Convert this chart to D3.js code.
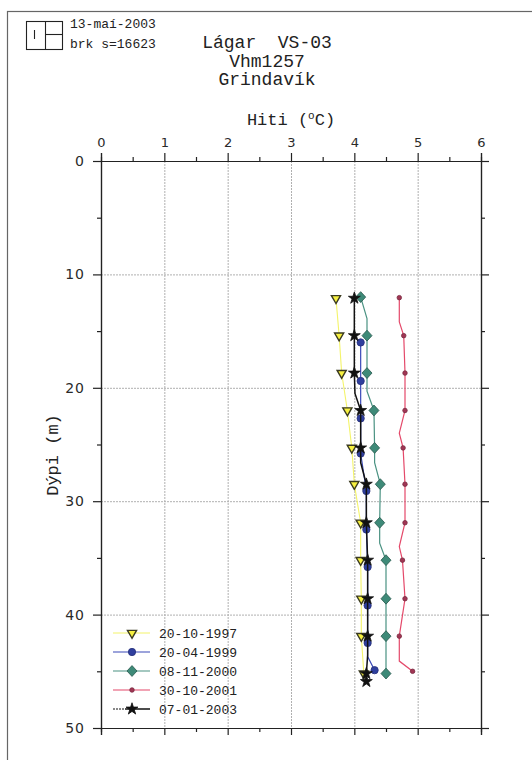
<!DOCTYPE html>
<html>
<head>
<meta charset="utf-8">
<script src="https://cdn.jsdelivr.net/npm/d3@7"></script>
<style>
  html, body { margin: 0; padding: 0; background: #fff; }
  svg text { white-space: pre; }
</style>
</head>
<body>
<svg id="chart" width="532" height="760"></svg>
<script>
// Temperature logs, well VS-03 (Vhm1257), Grindavík
const xTicks = [0, 1, 2, 3, 4, 5, 6];
const xMinor = [0.5, 1.5, 2.5, 3.5, 4.5, 5.5];
const yTicks = [0, 10, 20, 30, 40, 50];
const yMinor = [5, 15, 25, 35, 45];

const seriesNames = ["20-10-1997", "20-04-1999", "08-11-2000", "30-10-2001", "07-01-2003"];

// 20-10-1997
const d1997Depth = [12.1, 15.4, 18.7, 22.0, 25.3, 28.5, 31.9, 35.2, 38.6, 41.9, 45.2];
const d1997Temp  = [3.71, 3.76, 3.80, 3.89, 3.96, 4.00, 4.10, 4.10, 4.11, 4.11, 4.15];
const d1997Mark  = [1, 1, 1, 1, 1, 1, 1, 1, 1, 1, 1];

// 20-04-1999
const d1999Depth = [16.0, 19.4, 22.7, 25.8, 29.1, 32.5, 35.8, 39.2, 42.5, 43.7, 44.9];
const d1999Temp  = [4.10, 4.10, 4.10, 4.10, 4.19, 4.19, 4.21, 4.21, 4.21, 4.21, 4.32];
const d1999Mark  = [1, 1, 1, 1, 1, 1, 1, 1, 1, 0, 1];

// 08-11-2000
const d2000Depth = [12.0, 13.9, 15.4, 18.7, 20.3, 22.0, 25.3, 26.6, 28.5, 31.9, 33.7, 35.2, 38.6, 41.9, 45.2];
const d2000Temp  = [4.10, 4.20, 4.20, 4.20, 4.20, 4.31, 4.32, 4.32, 4.41, 4.40, 4.40, 4.50, 4.50, 4.50, 4.50];
const d2000Mark  = [1, 0, 1, 1, 0, 1, 1, 0, 1, 1, 0, 1, 1, 1, 1];

// 30-10-2001
const d2001Depth = [12.05, 14.2, 15.4, 18.7, 22.0, 24.0, 25.3, 28.5, 31.9, 34.0, 35.2, 38.6, 41.9, 44.1, 45.0];
const d2001Temp  = [4.71, 4.71, 4.78, 4.80, 4.80, 4.71, 4.77, 4.80, 4.80, 4.71, 4.76, 4.80, 4.71, 4.71, 4.92];
const d2001Mark  = [1, 0, 1, 1, 1, 0, 1, 1, 1, 0, 1, 1, 1, 0, 1];

// 07-01-2003
const d2003Depth = [12.1, 15.4, 18.7, 20.5, 22.0, 25.3, 26.6, 28.5, 31.9, 35.2, 38.6, 41.9, 43.6, 45.2, 45.9];
const d2003Temp  = [4.00, 4.00, 4.00, 4.01, 4.10, 4.10, 4.10, 4.19, 4.19, 4.21, 4.21, 4.21, 4.21, 4.19, 4.19];
const d2003Mark  = [1, 1, 1, 0, 1, 1, 0, 1, 1, 1, 1, 1, 0, 1, 1];

const styles = [
  { line: "#f4f46a", lw: 1.1, fill: "#f6f040", stroke: "#3a3a20", shape: "tri",     size: 36 },
  { line: "#3a49b8", lw: 1.2, fill: "#2f3f9e", stroke: "#26307a", shape: "circle",  size: 42 },
  { line: "#4a9282", lw: 1.2, fill: "#3e8a78", stroke: "#25564b", shape: "diamond", size: 34 },
  { line: "#e4496a", lw: 1.2, fill: "#a03654", stroke: "#7a2a40", shape: "dot",     size: 16 },
  { line: "#111111", lw: 1.5, fill: "#111111", stroke: "#111111", shape: "star",    size: 44 }
];

const raw = [
  [d1997Depth, d1997Temp, d1997Mark],
  [d1999Depth, d1999Temp, d1999Mark],
  [d2000Depth, d2000Temp, d2000Mark],
  [d2001Depth, d2001Temp, d2001Mark],
  [d2003Depth, d2003Temp, d2003Mark]
];
const series = raw.map((r, i) => ({
  name: seriesNames[i],
  style: styles[i],
  points: r[0].map((d, j) => ({ depth: d, temp: r[1][j], mark: r[2][j] }))
}));

const svg = d3.select("#chart");
const x = d3.scaleLinear().domain([0, 6]).range([101, 481]);
const y = d3.scaleLinear().domain([0, 50]).range([161, 728]);

// outer frame (runs past the right and bottom edges)
svg.append("rect").attr("x", 7.5).attr("y", 11.5).attr("width", 560).attr("height", 800)
  .attr("fill", "none").attr("stroke", "#666").attr("stroke-width", 1.2);

// logo
const logo = svg.append("g").attr("fill", "none").attr("stroke", "#222").attr("stroke-width", 1.1);
logo.append("rect").attr("x", 26.5).attr("y", 21.5).attr("width", 36).attr("height", 28);
logo.append("line").attr("x1", 45.5).attr("y1", 21.5).attr("x2", 45.5).attr("y2", 49.5);
logo.append("line").attr("x1", 45.5).attr("y1", 34.5).attr("x2", 62.5).attr("y2", 34.5);
logo.append("line").attr("x1", 34.5).attr("y1", 30).attr("x2", 34.5).attr("y2", 39);

const mono = "'Liberation Mono', 'Courier New', monospace";
const sans = "'DejaVu Sans', Verdana, sans-serif";

svg.append("text").attr("x", 70).attr("y", 28).attr("font-family", mono).attr("font-size", 13)
  .attr("fill", "#222").text("13-maí-2003");
svg.append("text").attr("x", 70).attr("y", 48).attr("font-family", mono).attr("font-size", 13)
  .attr("fill", "#222").text("brk s=16623");

const titles = ["Lágar  VS-03", "Vhm1257", "Grindavík"];
titles.forEach((t, i) => {
  svg.append("text").attr("x", 267).attr("y", 48 + i * 18.5).attr("text-anchor", "middle")
    .attr("font-family", mono).attr("font-size", 18).attr("fill", "#222").text(t);
});

// axis title (top)
const xt = svg.append("text").attr("x", 291).attr("y", 125).attr("text-anchor", "middle")
  .attr("font-family", mono).attr("font-size", 17).attr("fill", "#222");
xt.append("tspan").text("Hiti (");
xt.append("tspan").attr("font-size", 11).attr("dy", -6).text("o");
xt.append("tspan").attr("dy", 6).text("C)");

svg.append("text").attr("transform", "translate(58,455) rotate(-90)").attr("text-anchor", "middle")
  .attr("font-family", mono).attr("font-size", 17).attr("fill", "#222").text("Dýpi (m)");

// grid
const grid = svg.append("g").attr("stroke", "#b0b0b0").attr("stroke-width", 1).attr("stroke-dasharray", "2,1");
grid.selectAll("line.v").data(xTicks.filter(v => v > 0 && v < 6)).enter().append("line")
  .attr("x1", d => x(d) + 0.5).attr("x2", d => x(d) + 0.5).attr("y1", y(0)).attr("y2", y(50));
grid.selectAll("line.h").data(yTicks.filter(v => v > 0 && v < 50)).enter().append("line")
  .attr("y1", d => y(d) + 0.5).attr("y2", d => y(d) + 0.5).attr("x1", x(0)).attr("x2", x(6));

// axes
function styleAxis(g) {
  g.select(".domain").attr("stroke", "#222").attr("stroke-width", 1.2);
  g.selectAll(".tick line").attr("stroke", "#222").attr("stroke-width", 1.2);
  g.selectAll(".tick text").attr("fill", "#2a2a2a");
}
const topAxis = svg.append("g").attr("transform", `translate(0,${y(0)})`)
  .call(d3.axisTop(x).tickValues(xTicks).tickFormat(d3.format("d")).tickSizeOuter(0).tickSize(8).tickPadding(6))
  .attr("font-family", sans).attr("font-size", 13);
styleAxis(topAxis);
const topMinor = svg.append("g").attr("transform", `translate(0,${y(0)})`)
  .call(d3.axisTop(x).tickValues(xMinor).tickFormat("").tickSizeOuter(0).tickSize(4));
styleAxis(topMinor);

const bottomAxis = svg.append("g").attr("transform", `translate(0,${y(50)})`)
  .call(d3.axisBottom(x).tickValues(xTicks).tickFormat("").tickSizeOuter(0).tickSize(7));
styleAxis(bottomAxis);
const bottomMinor = svg.append("g").attr("transform", `translate(0,${y(50)})`)
  .call(d3.axisBottom(x).tickValues(xMinor).tickFormat("").tickSizeOuter(0).tickSize(4));
styleAxis(bottomMinor);

const leftAxis = svg.append("g").attr("transform", `translate(${x(0)},0)`)
  .call(d3.axisLeft(y).tickValues(yTicks).tickFormat(d3.format("d")).tickSizeOuter(0).tickSize(8).tickPadding(8))
  .attr("font-family", sans).attr("font-size", 14);
styleAxis(leftAxis);
leftAxis.selectAll(".tick text").attr("letter-spacing", 1);
const leftMinor = svg.append("g").attr("transform", `translate(${x(0)},0)`)
  .call(d3.axisLeft(y).tickValues(yMinor).tickFormat("").tickSizeOuter(0).tickSize(4));
styleAxis(leftMinor);

const rightAxis = svg.append("g").attr("transform", `translate(${x(6)},0)`)
  .call(d3.axisRight(y).tickValues(yTicks).tickFormat("").tickSizeOuter(0).tickSize(8));
styleAxis(rightAxis);
const rightMinor = svg.append("g").attr("transform", `translate(${x(6)},0)`)
  .call(d3.axisRight(y).tickValues(yMinor).tickFormat("").tickSizeOuter(0).tickSize(4));
styleAxis(rightMinor);

// marker shapes
function symbolPath(st) {
  const t = { tri: d3.symbolTriangle, circle: d3.symbolCircle, diamond: d3.symbolDiamond,
              dot: d3.symbolCircle, star: d3.symbolStar }[st.shape];
  return d3.symbol().type(t).size(st.size)();
}
function drawMarker(g, st, cx, cy) {
  const rot = st.shape === "tri" ? " rotate(180)" : "";
  const sx = st.shape === "diamond" ? " scale(1.6,1)" : "";
  g.append("path").attr("d", symbolPath(st))
    .attr("transform", `translate(${cx},${cy})${rot}${sx}`)
    .attr("fill", st.fill).attr("stroke", st.stroke)
    .attr("stroke-width", st.shape === "tri" ? 1.4 : (st.shape === "diamond" ? 0.6 : 0.8));
}

const lineGen = d3.line().x(d => x(d.temp)).y(d => y(d.depth));
const plot = svg.append("g");
series.forEach(s => {
  plot.append("path").datum(s.points).attr("d", lineGen).attr("fill", "none")
    .attr("stroke", s.style.line).attr("stroke-width", s.style.lw);
  const mg = plot.append("g");
  s.points.filter(p => p.mark).forEach(p => drawMarker(mg, s.style, x(p.temp), y(p.depth)));
});

// legend
const legend = svg.append("g");
series.forEach((s, i) => {
  const ly = 633 + i * 19;
  const row = legend.append("g");
  if (s.style.shape === "star") {
    row.append("line").attr("x1", 113).attr("x2", 125).attr("y1", ly).attr("y2", ly)
      .attr("stroke", s.style.line).attr("stroke-width", 1).attr("stroke-dasharray", "2,1");
    row.append("line").attr("x1", 125).attr("x2", 150).attr("y1", ly).attr("y2", ly)
      .attr("stroke", s.style.line).attr("stroke-width", s.style.lw);
  } else {
    row.append("line").attr("x1", 113).attr("x2", 150).attr("y1", ly).attr("y2", ly)
      .attr("stroke", s.style.line).attr("stroke-width", s.style.lw);
  }
  drawMarker(row, s.style, 132, ly);
  row.append("text").attr("x", 159).attr("y", ly + 4.5).attr("font-family", mono).attr("font-size", 13)
    .attr("fill", "#222").text(s.name);
});
</script>
</body>
</html>
